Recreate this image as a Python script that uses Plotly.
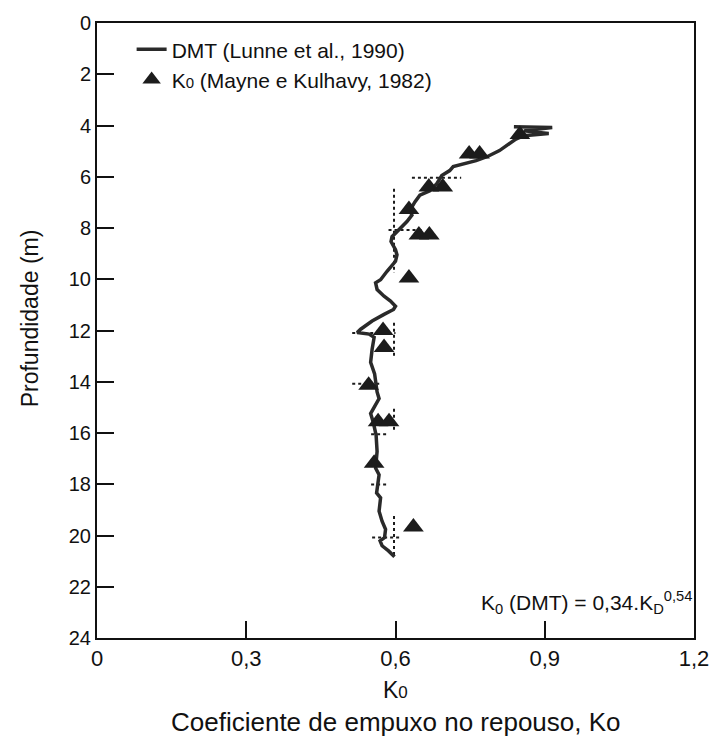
import plotly.graph_objects as go

# DMT curve (Lunne et al., 1990): K0 vs depth
dmt_k0 = [0.838, 0.915, 0.858, 0.908, 0.858, 0.842, 0.809, 0.785, 0.762, 0.739, 0.716, 0.709,
          0.693, 0.683, 0.669, 0.649, 0.639, 0.629, 0.633, 0.623, 0.606, 0.593, 0.591, 0.600,
          0.603, 0.600, 0.583, 0.570, 0.560, 0.563, 0.577, 0.590, 0.600, 0.596, 0.577, 0.553,
          0.530, 0.523, 0.547, 0.557, 0.553, 0.550, 0.558, 0.560, 0.563, 0.567, 0.560, 0.550,
          0.555, 0.561, 0.563, 0.560, 0.567, 0.563, 0.562, 0.570, 0.567, 0.573, 0.580, 0.578,
          0.569, 0.573, 0.586, 0.598]
dmt_depth = [4.05, 4.08, 4.21, 4.31, 4.40, 4.53, 4.98, 5.21, 5.37, 5.50, 5.60, 5.76,
             5.95, 6.27, 6.55, 6.72, 6.98, 7.31, 7.50, 7.75, 8.08, 8.34, 8.53, 8.85,
             9.05, 9.30, 9.69, 10.02, 10.14, 10.40, 10.66, 10.85, 11.05, 11.18, 11.37, 11.63,
             11.95, 12.08, 12.14, 12.27, 12.73, 13.24, 13.69, 14.01, 14.40, 14.66, 14.92, 15.24,
             15.56, 16.08, 16.72, 17.37, 17.63, 18.15, 18.34, 18.53, 19.05, 19.44, 19.76, 20.08,
             20.21, 20.40, 20.60, 20.83]

# K0 (Mayne e Kulhavy, 1982)
mk_k0 = [0.850, 0.748, 0.769, 0.667, 0.695, 0.627, 0.647, 0.668, 0.627,
         0.575, 0.577, 0.546, 0.565, 0.587, 0.557, 0.636]
mk_depth = [4.35, 5.11, 5.11, 6.40, 6.40, 7.28, 8.27, 8.27, 9.95,
            12.0, 12.66, 14.14, 15.56, 15.56, 17.18, 19.67]

# dotted reference segments: (k0_start, k0_end, depth_start, depth_end)
seg_k0_a = [0.633, 0.597, 0.586, 0.597, 0.513, 0.513, 0.597, 0.551, 0.551, 0.597, 0.553]
seg_k0_b = [0.732, 0.597, 0.653, 0.597, 0.600, 0.573, 0.597, 0.583, 0.584, 0.597, 0.608]
seg_d_a = [6.04, 6.47, 8.08, 11.70, 12.10, 14.08, 15.05, 16.05, 18.01, 19.24, 20.08]
seg_d_b = [6.04, 9.76, 8.08, 13.05, 12.10, 14.08, 15.87, 16.05, 18.01, 20.85, 20.08]

x_ticks = [0, 0.3, 0.6, 0.9, 1.2]
x_tick_text = ["0", "0,3", "0,6", "0,9", "1,2"]
y_ticks = list(range(0, 25, 2))

FONT = "Liberation Sans, Arial, sans-serif"
INK = "#1c1c1c"


def small0(px):
    return "<span style='font-size:%dpx'>0</span>" % px


fig = go.Figure()

for a, b, c, d in zip(seg_k0_a, seg_k0_b, seg_d_a, seg_d_b):
    fig.add_trace(go.Scatter(x=[a, b], y=[c, d], mode="lines",
                             line=dict(color=INK, width=2, dash="dot"),
                             showlegend=False, hoverinfo="skip"))

fig.add_trace(go.Scatter(x=dmt_k0, y=dmt_depth, mode="lines",
                         name="DMT (Lunne et al., 1990)",
                         line=dict(color="#2a2a2a", width=3.5)))
fig.add_trace(go.Scatter(x=mk_k0, y=mk_depth, mode="markers",
                         name="K" + small0(15) + " (Mayne e Kulhavy, 1982)",
                         marker=dict(symbol="triangle-up", size=18, color=INK,
                                     line=dict(width=0))))

fig.update_layout(
    width=721, height=744,
    margin=dict(l=97, r=21, t=18, b=106),
    paper_bgcolor="white", plot_bgcolor="white",
    font=dict(family=FONT, size=20, color="#111"),
    showlegend=True,
    legend=dict(x=0.058, y=0.99, xanchor="left", yanchor="top",
                bgcolor="rgba(0,0,0,0)", font=dict(size=21, family=FONT),
                itemwidth=30, tracegroupgap=0),
    xaxis=dict(range=[0, 1.2], tickvals=x_ticks, ticktext=x_tick_text,
               ticks="inside", ticklen=17, tickwidth=1.5, tickcolor="#111",
               showline=True, linecolor="#111", linewidth=2, mirror=True,
               showgrid=False, zeroline=False,
               tickfont=dict(size=22, family=FONT)),
    yaxis=dict(range=[24, 0], tickvals=y_ticks,
               ticks="inside", ticklen=17, tickwidth=1.5, tickcolor="#111",
               showline=True, linecolor="#111", linewidth=2, mirror=True,
               showgrid=False, zeroline=False,
               tickfont=dict(size=20, family=FONT)),
    annotations=[
        dict(text="Profundidade (m)", x=-0.112, y=0.52, xref="paper", yref="paper",
             textangle=-90, showarrow=False, xanchor="center", yanchor="middle",
             font=dict(size=23, family=FONT)),
        dict(text="K" + small0(17), x=0.5, y=-0.085, xref="paper", yref="paper",
             showarrow=False, font=dict(size=23, family=FONT), yanchor="middle"),
        dict(text="Coeficiente de empuxo no repouso, Ko", x=0.5, y=-0.136,
             xref="paper", yref="paper", showarrow=False,
             font=dict(size=26, family=FONT), yanchor="middle"),
        dict(text="K<sub>0</sub> (DMT) = 0,34.K<sub>D</sub><sup>0,54</sup>",
             x=1.0, y=0.058, xref="paper", yref="paper", xanchor="right",
             yanchor="middle", showarrow=False, font=dict(size=21, family=FONT)),
    ],
)

fig.write_html("out.html")
